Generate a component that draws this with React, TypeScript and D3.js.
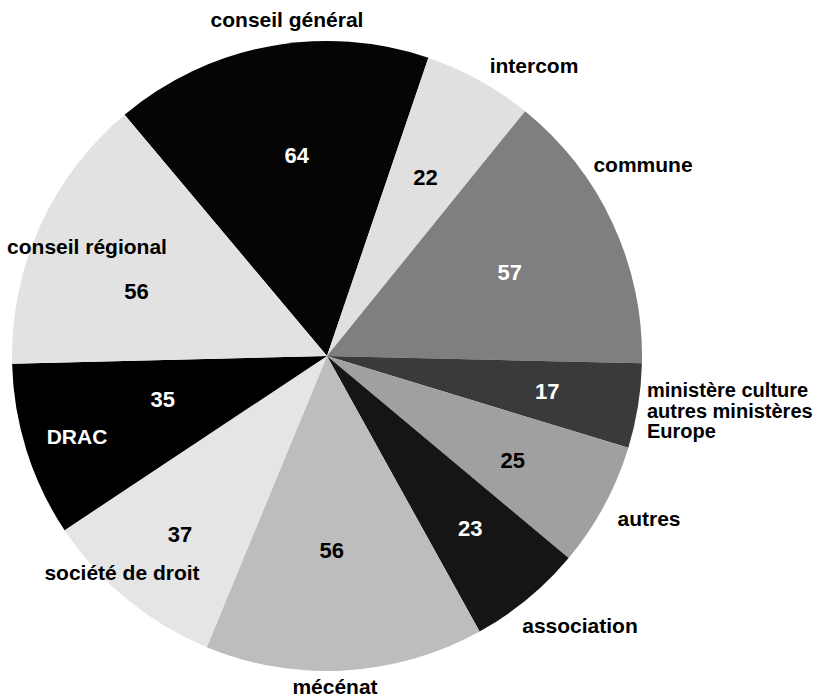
import React from "react";
import * as d3 from "d3";

// ---- data ----
const categories = [
  "conseil général",
  "intercom",
  "commune",
  "ministère culture|autres ministères|Europe",
  "autres",
  "association",
  "mécénat",
  "société de droit",
  "DRAC",
  "conseil régional",
];
const values = [64, 22, 57, 17, 25, 23, 56, 37, 35, 56];

// ---- styles / layout ----
const fills = ["#050505", "#e0e0e0", "#7f7f7f", "#3a3a3a", "#a0a0a0", "#151515", "#bdbdbd", "#e5e5e5", "#000000", "#e2e2e2"];
const valueColors = ["#fff", "#000", "#fff", "#fff", "#000", "#fff", "#000", "#000", "#fff", "#000"];
// nudges (px) from the arc centroid at the label radius
const valueNudge: [number, number][] = [
  [8, 3], [-2, 3], [-6, 3], [15, 2], [3, 5], [11, 12], [-7, -13], [-15, 18], [34, -19], [-1, 21],
];
// name label anchor (x, baseline y), text-anchor, fill, font size
const nameLayout: { x: number; y: number; anchor: string; fill: string; size: number }[] = [
  { x: 287, y: 27, anchor: "middle", fill: "#000", size: 21 },
  { x: 534, y: 73, anchor: "middle", fill: "#000", size: 21 },
  { x: 643, y: 172, anchor: "middle", fill: "#000", size: 21 },
  { x: 647, y: 397, anchor: "start", fill: "#000", size: 20 },
  { x: 649, y: 526, anchor: "middle", fill: "#000", size: 21 },
  { x: 580, y: 633, anchor: "middle", fill: "#000", size: 21 },
  { x: 335, y: 694, anchor: "middle", fill: "#000", size: 21 },
  { x: 122, y: 580, anchor: "middle", fill: "#000", size: 21 },
  { x: 77, y: 444, anchor: "middle", fill: "#fff", size: 21 },
  { x: 87, y: 254, anchor: "middle", fill: "#000", size: 21 },
];

const W = 823;
const H = 698;
const CX = 327;
const CY = 356;
const R = 315;
const START = (-40 * Math.PI) / 180;

export default function App() {
  const data = categories.map((c, i) => ({ name: c, value: values[i], i }));
  const pie = d3
    .pie<any>()
    .sort(null)
    .value((d) => d.value)
    .startAngle(START)
    .endAngle(START + 2 * Math.PI);
  const arcs = pie(data);
  const arc = d3.arc<any>().innerRadius(0).outerRadius(R);
  const labelArc = d3.arc<any>().innerRadius(R * 0.66).outerRadius(R * 0.66);
  const font = "'Liberation Sans', Arial, Helvetica, sans-serif";

  return (
    <svg
      width={W}
      height={H}
      style={{ position: "absolute", left: 0, top: 0, background: "#fff" }}
      fontFamily={font}
      fontWeight="bold"
    >
      <g transform={`translate(${CX},${CY})`}>
        {arcs.map((a) => (
          <path key={a.data.name} d={arc(a) as string} fill={fills[a.data.i]} />
        ))}
        {arcs.map((a) => {
          const [x, y] = labelArc.centroid(a);
          const [nx, ny] = valueNudge[a.data.i];
          return (
            <text
              key={"v" + a.data.name}
              x={x + nx}
              y={y + ny}
              dy="0.36em"
              textAnchor="middle"
              fontSize={22}
              fill={valueColors[a.data.i]}
            >
              {a.data.value}
            </text>
          );
        })}
      </g>
      {categories.map((c, i) => {
        const L = nameLayout[i];
        const lines = c.split("|");
        return (
          <text
            key={"n" + c}
            x={L.x}
            y={L.y}
            textAnchor={L.anchor}
            fontSize={L.size}
            fill={L.fill}
          >
            {lines.map((ln, j) => (
              <tspan key={j} x={L.x} dy={j === 0 ? 0 : 20.5}>
                {ln}
              </tspan>
            ))}
          </text>
        );
      })}
    </svg>
  );
}
